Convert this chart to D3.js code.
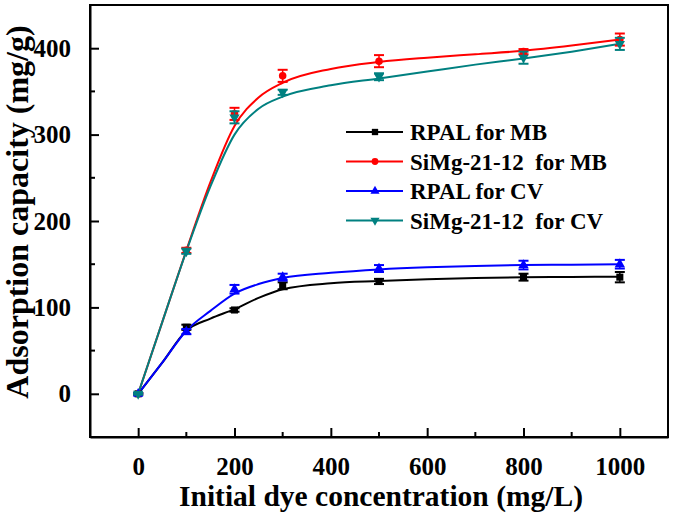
<!DOCTYPE html>
<html><head><meta charset="utf-8">
<script src="https://cdn.jsdelivr.net/npm/d3@7"></script>
<style>
body{margin:0;background:#fff}
text{font-family:"Liberation Serif","Times New Roman",serif;font-weight:bold;fill:#000}
</style>
</head><body><svg id="c" width="675" height="515"></svg>
<script>
// ---- data ----
const concentrations = [0, 100, 200, 300, 500, 800, 1000];
const rpalMB      = [0, 77, 97, 125, 130, 135, 135];
const rpalMBErr   = [1, 3, 2, 4, 3, 4, 6];
const simgMB      = [0, 166, 324, 368, 385, 396, 410];
const simgMBErr   = [1, 3, 7, 7, 7, 3, 7];
const rpalCV      = [0, 72, 121, 135, 145, 149, 150];
const rpalCVErr   = [1, 3, 5, 4, 4, 5, 5];
const simgCV      = [0, 165, 320, 349, 367, 389, 405];
const simgCVErr   = [1, 3, 7, 3, 4, 7, 7];
// fitted curves
const fitX        = [0, 50, 100, 150, 200, 250, 300, 400, 500, 600, 700, 800, 900, 1000];
const rpalMBFit   = [0, 36, 73, 87, 98, 111, 121, 128, 130.5, 132.5, 134, 135, 135.3, 135.5];
const simgMBFit   = [0, 83, 166, 245, 310, 343, 360, 376, 384, 389, 393, 397, 403, 410];
const rpalCVFit   = [0, 36, 73, 96, 116, 127, 134, 140, 144, 146.5, 148, 149, 149.5, 150];
const simgCVFit   = [0, 83, 165, 240, 300, 330, 344, 357, 365, 373, 381, 388, 396, 405];
const seriesNames = ["RPAL for MB", "SiMg-21-12  for MB", "RPAL for CV", "SiMg-21-12  for CV"];
const seriesColors = ["#000000", "#ff0000", "#0000ff", "#008080"];
const xTicks = [0, 200, 400, 600, 800, 1000];
const yTicks = [0, 100, 200, 300, 400];
const xLabel = "Initial dye concentration (mg/L)";
const yLabel = "Adsorption capacity (mg/g)";

const series = [
  {name: seriesNames[0], color: seriesColors[0], sym: d3.symbolSquare, size: 50, rot: 0, v: rpalMB, e: rpalMBErr, f: rpalMBFit},
  {name: seriesNames[1], color: seriesColors[1], sym: d3.symbolCircle, size: 45, rot: 0, v: simgMB, e: simgMBErr, f: simgMBFit},
  {name: seriesNames[2], color: seriesColors[2], sym: d3.symbolTriangle, size: 45, rot: 0, v: rpalCV, e: rpalCVErr, f: rpalCVFit},
  {name: seriesNames[3], color: seriesColors[3], sym: d3.symbolTriangle, size: 45, rot: 180, v: simgCV, e: simgCVErr, f: simgCVFit}
];

// ---- layout ----
const W = 675, H = 515;
const m = {left: 90, right: 7, top: 5, bottom: 78};
const svg = d3.select("#c");
const x = d3.scaleLinear().domain([-100, 1100]).range([m.left, W - m.right]);
const y = d3.scaleLinear().domain([-50, 450]).range([H - m.bottom, m.top]);

const g = svg.append("g");

// minor ticks
const xMinor = d3.range(-100, 1101, 100).filter(v => v % 200 !== 0 && v > -100 && v < 1100);
const yMinor = d3.range(-50, 451, 50).filter(v => v % 100 !== 0 && v > -50 && v < 450);

const xAxis = g.append("g").attr("transform", `translate(0,${y(-50)})`)
  .call(d3.axisBottom(x).tickValues(xTicks).tickSizeInner(-9).tickSizeOuter(0).tickPadding(20).tickFormat(d3.format("d")));
xAxis.selectAll("text").style("font-size", "25px");
xAxis.append("g").selectAll("line").data(xMinor).join("line")
  .attr("x1", d => x(d)).attr("x2", d => x(d)).attr("y1", 0).attr("y2", -5).attr("stroke", "#000").attr("stroke-width", 2);

const yAxis = g.append("g").attr("transform", `translate(${x(-100)},0)`)
  .call(d3.axisLeft(y).tickValues(yTicks).tickSizeInner(-9).tickSizeOuter(0).tickPadding(19).tickFormat(d3.format("d")));
yAxis.selectAll("text").style("font-size", "25px");
yAxis.append("g").selectAll("line").data(yMinor).join("line")
  .attr("y1", d => y(d)).attr("y2", d => y(d)).attr("x1", 0).attr("x2", 5).attr("stroke", "#000").attr("stroke-width", 2);

[xAxis, yAxis].forEach(a => {
  a.select(".domain").attr("stroke-width", 2);
  a.selectAll(".tick line").attr("stroke-width", 2);
});

// frame
g.append("rect").attr("x", x(-100)).attr("y", y(450)).attr("width", x(1100) - x(-100)).attr("height", y(-50) - y(450))
  .attr("fill", "none").attr("stroke", "#000").attr("stroke-width", 2);

// fitted curves
const line = d3.line().x(d => x(d[0])).y(d => y(d[1])).curve(d3.curveMonotoneX);
const plot = g.append("g");
series.forEach(s => {
  plot.append("path").datum(fitX.map((xv, i) => [xv, s.f[i]]))
    .attr("d", line).attr("fill", "none").attr("stroke", s.color).attr("stroke-width", 2);
});
// error bars and markers
series.forEach(s => {
  const sg = plot.append("g");
  concentrations.forEach((c, i) => {
    const cx = x(c), y1 = y(s.v[i] + s.e[i]), y2 = y(s.v[i] - s.e[i]);
    sg.append("line").attr("x1", cx).attr("x2", cx).attr("y1", y1).attr("y2", y2).attr("stroke", s.color).attr("stroke-width", 1.5);
    [y1, y2].forEach(yy => sg.append("line").attr("x1", cx - 5).attr("x2", cx + 5).attr("y1", yy).attr("y2", yy).attr("stroke", s.color).attr("stroke-width", 2));
    sg.append("path").attr("d", d3.symbol(s.sym, s.size)())
      .attr("transform", `translate(${cx},${y(s.v[i])}) rotate(${s.rot})`).attr("fill", s.color);
  });
});

// legend
const leg = g.append("g");
series.forEach((s, i) => {
  const ly = 132 + i * 29.5;
  leg.append("line").attr("x1", 346).attr("x2", 403).attr("y1", ly).attr("y2", ly).attr("stroke", s.color).attr("stroke-width", 2);
  leg.append("path").attr("d", d3.symbol(s.sym, s.size * 0.8)()).attr("transform", `translate(375,${ly}) rotate(${s.rot})`).attr("fill", s.color);
  leg.append("text").attr("x", 410).attr("y", ly + 8).style("font-size", "23px").style("white-space", "pre").attr("xml:space", "preserve").text(s.name);
});

// axis titles
g.append("text").attr("x", (x(-100) + x(1100)) / 2 + 2).attr("y", 506).attr("text-anchor", "middle").style("font-size", "29.5px").text(xLabel);
g.append("text").attr("transform", `translate(28,${(y(-50) + y(450)) / 2 - 9}) rotate(-90)`).attr("text-anchor", "middle").style("font-size", "32px").text(yLabel);
</script>
</body></html>
